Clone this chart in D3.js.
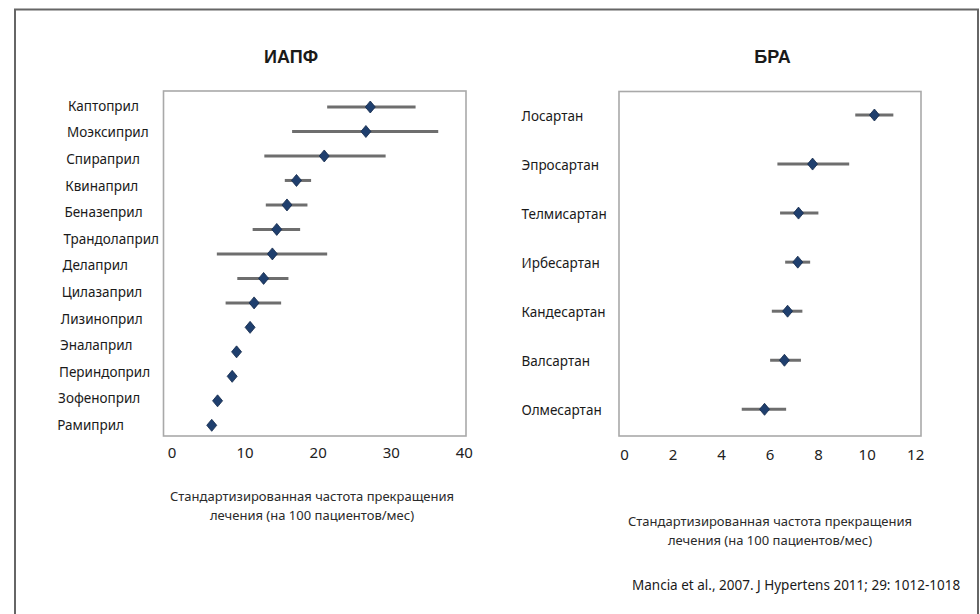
<!DOCTYPE html>
<html>
<head>
<meta charset="utf-8">
<script src="https://cdn.jsdelivr.net/npm/d3@7"></script>
<style>
  body { margin: 0; background: #fff; }
  svg text { font-family: "Noto Sans", "Open Sans", sans-serif; fill: #1a1a1a; }
  .panel-title { font-family: "Liberation Sans", Arial, sans-serif; font-weight: bold; font-size: 18px; }
  .row-label { font-size: 13.5px; }
  .tick text { font-size: 15px; fill: #222; }
  .axis-title { font-size: 13px; fill: #2a2a2a; }
</style>
</head>
<body>
<svg id="chart" width="980" height="614"></svg>
<script>
// ИАПФ: 13 labels, but the picture has 14 estimates (labels are spaced on their own grid)
const aceLabels = ["Каптоприл", "Моэксиприл", "Спираприл", "Квинаприл", "Беназеприл",
  "Трандолаприл", "Делаприл", "Цилазаприл", "Лизиноприл", "Эналаприл",
  "Периндоприл", "Зофеноприл", "Рамиприл"];
const aceMean = [27.2, 26.6, 20.9, 17.1, 15.8, 14.4, 13.8, 12.6, 11.3, 10.75, 8.9, 8.3, 6.3, 5.5];
const aceLow  = [21.3, 16.5, 12.7, 15.5, 12.9, 11.1, 6.2, 9.0, 7.4, 10.2, 8.5, 7.9, 5.9, 5.1];
const aceHigh = [33.4, 36.5, 29.3, 19.1, 18.6, 17.6, 21.3, 16.0, 15.0, 11.3, 9.3, 8.7, 6.7, 5.9];
const aceTicks = [0, 10, 20, 30, 40];

// БРА
const arbLabels = ["Лосартан", "Эпросартан", "Телмисартан", "Ирбесартан", "Кандесартан", "Валсартан", "Олмесартан"];
const arbMean = [10.32, 7.77, 7.19, 7.16, 6.74, 6.61, 5.79];
const arbLow  = [9.53, 6.32, 6.43, 6.64, 6.09, 6.02, 4.85];
const arbHigh = [11.1, 9.28, 8.01, 7.67, 7.35, 7.29, 6.68];
const arbTicks = [0, 2, 4, 6, 8, 10, 12];

const axisTitle = ["Стандартизированная частота прекращения", "лечения (на 100 пациентов/мес)"];
const source = "Mancia et al., 2007. J Hypertens 2011; 29: 1012-1018";

const svg = d3.select("#chart");

// outer frame
svg.append("rect")
  .attr("x", 15).attr("y", 9.5)
  .attr("width", 963).attr("height", 640)
  .attr("fill", "none")
  .attr("stroke", "#666")
  .attr("stroke-width", 2);

function drawPanel(opt) {
  const { box, xDomain, labels, mean, low, high, ticks } = opt;
  const g = svg.append("g");

  const x = d3.scaleLinear().domain(xDomain).range([box.x0, box.x1]);
  const yRow = d3.scalePoint().domain(d3.range(mean.length)).range(opt.rowRange);
  const yLab = d3.scalePoint().domain(d3.range(labels.length)).range(opt.labelRange);

  g.append("rect")
    .attr("x", box.x0).attr("y", box.y0)
    .attr("width", box.x1 - box.x0).attr("height", box.y1 - box.y0)
    .attr("fill", "#fff")
    .attr("stroke", "#a9a9a9")
    .attr("stroke-width", 1.6);

  const axis = g.append("g")
    .attr("transform", `translate(0,${box.y1})`)
    .call(d3.axisBottom(x).tickValues(ticks).tickSize(0).tickPadding(opt.tickPad));
  axis.select(".domain").remove();

  g.append("text")
    .attr("class", "panel-title")
    .attr("x", opt.titleX).attr("y", 63)
    .attr("text-anchor", "middle")
    .text(opt.title);

  g.selectAll(".row-label")
    .data(labels)
    .join("text")
    .attr("class", "row-label")
    .attr("x", (d, i) => opt.labelX - i * opt.labelDrift)
    .attr("y", (d, i) => yLab(i))
    .attr("dy", "0.35em")
    .text(d => d);

  const rows = mean.map((m, i) => ({ m, lo: low[i], hi: high[i], i }));

  g.selectAll(".whisker")
    .data(rows)
    .join("line")
    .attr("class", "whisker")
    .attr("x1", d => x(d.lo)).attr("x2", d => x(d.hi))
    .attr("y1", d => yRow(d.i)).attr("y2", d => yRow(d.i))
    .attr("stroke", "#6e6e6e")
    .attr("stroke-width", 3);

  g.selectAll(".est")
    .data(rows)
    .join("path")
    .attr("class", "est")
    .attr("transform", d => `translate(${x(d.m)},${yRow(d.i)})`)
    .attr("d", "M0,-6L5,0L0,6L-5,0Z")
    .attr("fill", "#1f3f6e")
    .attr("stroke", "#142a4a")
    .attr("stroke-width", 0.8);

  const t = g.append("text")
    .attr("class", "axis-title")
    .attr("text-anchor", "middle")
    .attr("x", opt.axisTitleX)
    .attr("y", opt.axisTitleY);
  axisTitle.forEach((line, i) => {
    t.append("tspan").attr("x", opt.axisTitleX).attr("dy", i === 0 ? 0 : 19).text(line);
  });
}

drawPanel({
  title: "ИАПФ", titleX: 291,
  box: { x0: 163.5, x1: 466, y0: 91, y1: 436 },
  xDomain: [-1.1, 40.3],
  labels: aceLabels, mean: aceMean, low: aceLow, high: aceHigh, ticks: aceTicks,
  rowRange: [107, 425.3], labelRange: [106, 425.3],
  labelX: 68, labelDrift: 0.9,
  tickPad: 11,
  axisTitleX: 312, axisTitleY: 501
});

drawPanel({
  title: "БРА", titleX: 772.5,
  box: { x0: 619, x1: 921, y0: 91.5, y1: 436 },
  xDomain: [-0.21, 12.24],
  labels: arbLabels, mean: arbMean, low: arbLow, high: arbHigh, ticks: arbTicks,
  rowRange: [115, 409.3], labelRange: [116.5, 410],
  labelX: 521.5, labelDrift: 0,
  tickPad: 13,
  axisTitleX: 770, axisTitleY: 526
});

svg.append("text")
  .attr("x", 632).attr("y", 590)
  .attr("font-size", 13.5)
  .attr("fill", "#222")
  .text(source);
</script>
</body>
</html>
